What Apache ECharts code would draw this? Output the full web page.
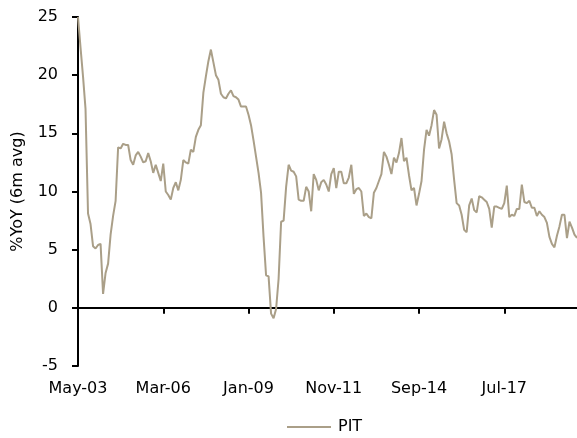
<!DOCTYPE html>
<html>
<head>
<meta charset="utf-8">
<script src="https://cdn.jsdelivr.net/npm/echarts@6/dist/echarts.min.js"></script>
<style>
html,body{margin:0;padding:0;background:#fff;}
#chart{width:577px;height:438px;}
</style>
</head>
<body>
<div id="chart"></div>
<script>
// Monthly categories: May-03 .. Dec-19 (200 months)
var startYear = 2003, startMonth = 4, monthCount = 200;
var monthNames = ['Jan','Feb','Mar','Apr','May','Jun','Jul','Aug','Sep','Oct','Nov','Dec'];
var categories = [];
for (var k = 0; k < monthCount; k++) {
  var m = (startMonth + k) % 12;
  var y = startYear + Math.floor((startMonth + k) / 12);
  categories.push(monthNames[m] + '-' + String(y % 100).padStart(2, '0'));
}

var seriesName = 'PIT';
var pitValues = [
  25.0, 22.4, 19.9, 17.1, 8.1, 7.2, 5.3, 5.1, 5.4, 5.5,
  1.2, 3.0, 3.8, 6.3, 7.9, 9.2, 13.8, 13.7, 14.1, 14.0,
  14.0, 12.7, 12.3, 13.1, 13.4, 13.0, 12.5, 12.6, 13.3, 12.6,
  11.6, 12.3, 11.6, 10.9, 12.4, 10.0, 9.7, 9.3, 10.3, 10.8,
  10.1, 11.0, 12.7, 12.5, 12.4, 13.6, 13.4, 14.7, 15.3, 15.7,
  18.5, 19.9, 21.2, 22.2, 21.1, 20.0, 19.6, 18.4, 18.1, 18.0,
  18.4, 18.7, 18.2, 18.1, 17.9, 17.3, 17.3, 17.3, 16.6, 15.7,
  14.4, 13.0, 11.6, 9.9, 6.1, 2.8, 2.7, -0.5, -0.9, -0.1,
  2.5, 7.4, 7.5, 10.4, 12.3, 11.8, 11.7, 11.3, 9.3, 9.2,
  9.2, 10.4, 10.0, 8.3, 11.5, 11.0, 10.1, 10.8, 11.0, 10.6,
  10.0, 11.5, 12.0, 10.3, 11.7, 11.7, 10.7, 10.7, 11.2, 12.3,
  9.8, 10.2, 10.3, 10.0, 7.9, 8.1, 7.8, 7.7, 9.9, 10.3,
  10.9, 11.5, 13.4, 13.0, 12.3, 11.5, 12.9, 12.5, 13.3, 14.6,
  12.6, 12.9, 11.4, 10.1, 10.3, 8.8, 9.8, 10.9, 13.6, 15.3,
  14.8, 15.7, 17.0, 16.6, 13.7, 14.5, 16.0, 15.0, 14.3, 13.2,
  11.0, 9.0, 8.8, 8.0, 6.7, 6.5, 8.8, 9.4, 8.4, 8.2,
  9.6, 9.5, 9.3, 9.1, 8.5, 6.9, 8.7, 8.7, 8.6, 8.5,
  9.0, 10.5, 7.8, 8.0, 7.9, 8.5, 8.5, 10.6, 9.1, 9.0,
  9.2, 8.6, 8.6, 7.9, 8.3, 8.0, 7.8, 7.3, 6.1, 5.5,
  5.2, 6.2, 7.0, 8.0, 8.0, 6.0, 7.4, 6.9, 6.3, 6.0
];

var yMin = -5, yMax = 25, yStep = 5;
var labelEvery = 34;
var yAxisTitle = '%YoY (6m avg)';
var lineColor = '#aa9f88';

var font = 'DejaVu Sans';
var chart = echarts.init(document.getElementById('chart'), null, {renderer: 'canvas'});
chart.setOption({
  animation: false,
  backgroundColor: '#ffffff',
  grid: {left: 78, right: 0, top: 17, bottom: 72, containLabel: false},
  legend: {
    data: [{name: seriesName, icon: 'rect'}],
    left: 282, top: 414,
    itemWidth: 44, itemHeight: 2, itemGap: 7,
    textStyle: {fontFamily: font, fontSize: 16, color: '#000', padding: [0, 0, 0, 2]}
  },
  xAxis: [
    {
      type: 'category', data: categories, boundaryGap: false,
      axisLine: {show: true, onZero: true, lineStyle: {color: '#000', width: 2}},
      axisTick: {show: true, interval: labelEvery - 1, length: 6, lineStyle: {color: '#000', width: 2}},
      axisLabel: {show: false},
      splitLine: {show: false}
    },
    {
      type: 'category', data: categories, boundaryGap: false, position: 'bottom',
      axisLine: {show: false, onZero: false},
      axisTick: {show: false},
      axisLabel: {show: true, interval: labelEvery - 1, margin: 15, fontFamily: font, fontSize: 16, color: '#000'},
      splitLine: {show: false}
    }
  ],
  yAxis: {
    type: 'value', min: yMin, max: yMax, interval: yStep,
    name: yAxisTitle, nameLocation: 'middle', nameGap: 52, nameRotate: 90,
    nameTextStyle: {fontFamily: font, fontSize: 16, color: '#000'},
    axisLine: {show: true, lineStyle: {color: '#000', width: 2}},
    axisTick: {show: true, length: 6, lineStyle: {color: '#000', width: 2}},
    axisLabel: {margin: 20, fontFamily: font, fontSize: 16, color: '#000'},
    splitLine: {show: false}
  },
  series: [{
    name: seriesName, type: 'line', xAxisIndex: 0,
    data: pitValues, symbol: 'none', showSymbol: false,
    lineStyle: {color: lineColor, width: 2},
    itemStyle: {color: lineColor}
  }]
});
</script>
</body>
</html>
